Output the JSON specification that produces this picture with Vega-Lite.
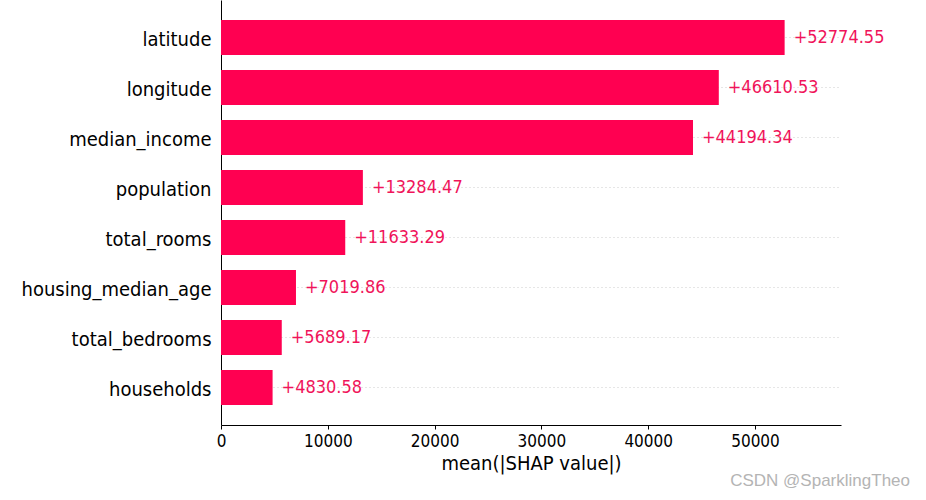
{
  "$schema": "https://vega.github.io/schema/vega-lite/v6.json",
  "width": 620,
  "height": 425,
  "autosize": "none",
  "padding": {"left": 221, "top": 0, "right": 85, "bottom": 75},
  "background": "white",
  "config": {"view": {"stroke": null}},
  "title": {
    "text": "CSDN @SparklingTheo",
    "orient": "bottom",
    "anchor": "end",
    "frame": "group",
    "color": "#b4b4b4",
    "font": "Liberation Sans",
    "fontSize": 17,
    "fontWeight": "normal",
    "dx": 69,
    "offset": 0
  },
  "data": {
    "values": [
      {"feature": "latitude", "value": 52774.55},
      {"feature": "longitude", "value": 46610.53},
      {"feature": "median_income", "value": 44194.34},
      {"feature": "population", "value": 13284.47},
      {"feature": "total_rooms", "value": 11633.29},
      {"feature": "housing_median_age", "value": 7019.86},
      {"feature": "total_bedrooms", "value": 5689.17},
      {"feature": "households", "value": 4830.58}
    ]
  },
  "encoding": {
    "y": {
      "field": "feature",
      "type": "nominal",
      "sort": null,
      "scale": {"paddingInner": 0.3, "paddingOuter": 0.4},
      "axis": {
        "title": null,
        "ticks": false,
        "labelPadding": 10,
        "labelOffset": 2,
        "labelLimit": 400,
        "labelFont": "DejaVu Sans Condensed, DejaVu Sans",
        "labelFontSize": 20,
        "labelColor": "black",
        "domainColor": "black",
        "domainWidth": 1,
        "grid": true,
        "bandPosition": 0.5,
        "gridColor": "#cccccc",
        "gridDash": [1, 3],
        "gridWidth": 1
      }
    },
    "x": {
      "field": "value",
      "type": "quantitative",
      "scale": {"domain": [0, 58052], "nice": false, "zero": true},
      "axis": {
        "title": "mean(|SHAP value|)",
        "titleFont": "DejaVu Sans Condensed, DejaVu Sans",
        "titleFontSize": 20,
        "titleFontWeight": "normal",
        "titleColor": "black",
        "titlePadding": 4,
        "values": [0, 10000, 20000, 30000, 40000, 50000],
        "format": "d",
        "labelFlush": false,
        "labelFont": "DejaVu Sans Condensed, DejaVu Sans",
        "labelFontSize": 17,
        "labelColor": "black",
        "labelPadding": 4,
        "tickSize": 4,
        "tickColor": "black",
        "domainColor": "black",
        "domainWidth": 1,
        "grid": false
      }
    }
  },
  "layer": [
    {"mark": {"type": "bar", "color": "#ff0051"}},
    {
      "mark": {
        "type": "text",
        "align": "left",
        "baseline": "middle",
        "dx": 9,
        "color": "#f0145a",
        "font": "DejaVu Sans Condensed, DejaVu Sans",
        "fontSize": 18
      },
      "encoding": {
        "text": {"field": "value", "type": "quantitative", "format": "+.2f"}
      }
    }
  ]
}
